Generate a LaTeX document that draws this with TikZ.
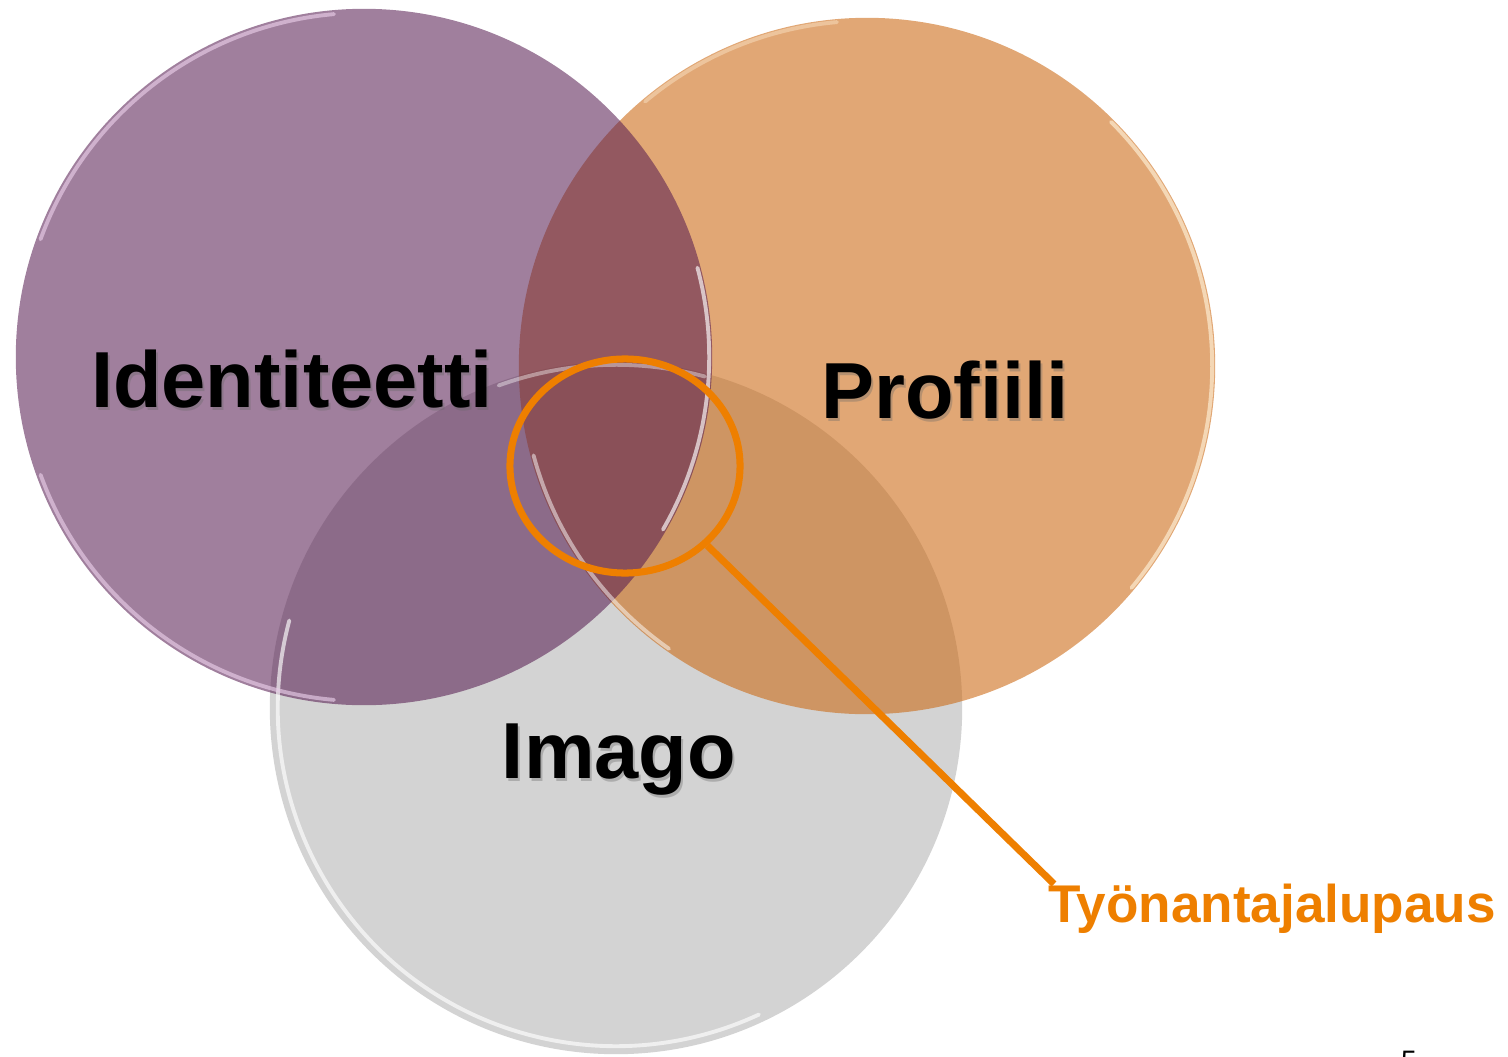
\documentclass[tikz,border=0pt]{standalone}
\usepackage{fontspec}
\setmainfont{Liberation Sans}
\usetikzlibrary{shapes.geometric}
\definecolor{grayc}{RGB}{211,211,211}
\definecolor{orangec}{RGB}{204,106,21}
\definecolor{purplec}{RGB}{86,27,80}
\definecolor{hlc}{RGB}{238,127,0}
\definecolor{creamc}{RGB}{255,240,215}
\definecolor{pinkc}{RGB}{232,205,232}
\begin{document}
\begin{tikzpicture}[x=0.01cm,y=-0.01cm,
  venn/.style={circle, inner sep=0pt, outer sep=0pt, draw=none},
  rim/.style={line width=1.1pt, draw opacity=0.65, line cap=round},
  lbl/.style={font=\fontsize{22.6}{26}\selectfont\bfseries, text=black, inner sep=0pt, anchor=base},
  lblshadow/.style={lbl, text=black!60, text opacity=0.35},
  hlstyle/.style={draw=hlc, line width=2pt},
  callout/.style={font=\fontsize{15.1}{18}\selectfont\bfseries, text=hlc, inner sep=0pt, anchor=base}
]
\useasboundingbox (0,0) rectangle (1508,1057);
% circles: gray bottom, orange, purple on top
\node[venn, minimum size=6.92cm, fill=grayc] (imc) at (616,708) {};
\node[venn, minimum size=6.96cm, fill=orangec, fill opacity=0.59] (prc) at (867,366) {};
\node[venn, minimum size=6.96cm, fill=purplec, fill opacity=0.56] (idc) at (364,357) {};
% glossy rims (partial arcs)
\begin{scope}[shift={(imc.center)}, x=1cm, y=1cm]
  \draw[rim, white] (165:3.38) arc[start angle=165, end angle=295, radius=3.38];
  \draw[rim, white, draw opacity=0.4] (75:3.43) arc[start angle=75, end angle=110, radius=3.43];
\end{scope}
\begin{scope}[shift={(prc.center)}, x=1cm, y=1cm]
  \draw[rim, creamc] (-40:3.45) arc[start angle=-40, end angle=45, radius=3.45];
  \draw[rim, white, draw opacity=0.5] (195:3.45) arc[start angle=195, end angle=235, radius=3.45];
  \draw[rim, creamc, draw opacity=0.4] (95:3.45) arc[start angle=95, end angle=130, radius=3.45];
\end{scope}
\begin{scope}[shift={(idc.center)}, x=1cm, y=1cm]
  \draw[rim, pinkc] (95:3.44) arc[start angle=95, end angle=160, radius=3.44];
  \draw[rim, pinkc] (200:3.44) arc[start angle=200, end angle=265, radius=3.44];
  \draw[rim, white] (-30:3.45) arc[start angle=-30, end angle=15, radius=3.45];
\end{scope}
% labels with soft shadow
\node[lblshadow] at (294,410) {Identiteetti};
\node[lbl] (idl) at (292,407) {Identiteetti};
\node[lblshadow] at (947,421) {Profiili};
\node[lbl] (prl) at (945,418) {Profiili};
\node[lblshadow] at (621,781) {Imago};
\node[lbl] (iml) at (619,778) {Imago};
% highlight and callout
\node[ellipse, hlstyle, minimum width=2.30cm, minimum height=2.14cm, inner sep=0pt] (hl) at (625,466) {};
\node[callout] (cl) at (1272,922) {Työnantajalupaus};
\coordinate (clend) at (1054,884);
\draw[hlc, line width=2pt] (hl.-44) -- (clend);
% page number fragment (cut off at the lower edge, as in the reference)
\node[font=\fontsize{8}{9}\selectfont, inner sep=0pt, anchor=base] (pg) at (1409,1070) {5};
\end{tikzpicture}
\end{document}
